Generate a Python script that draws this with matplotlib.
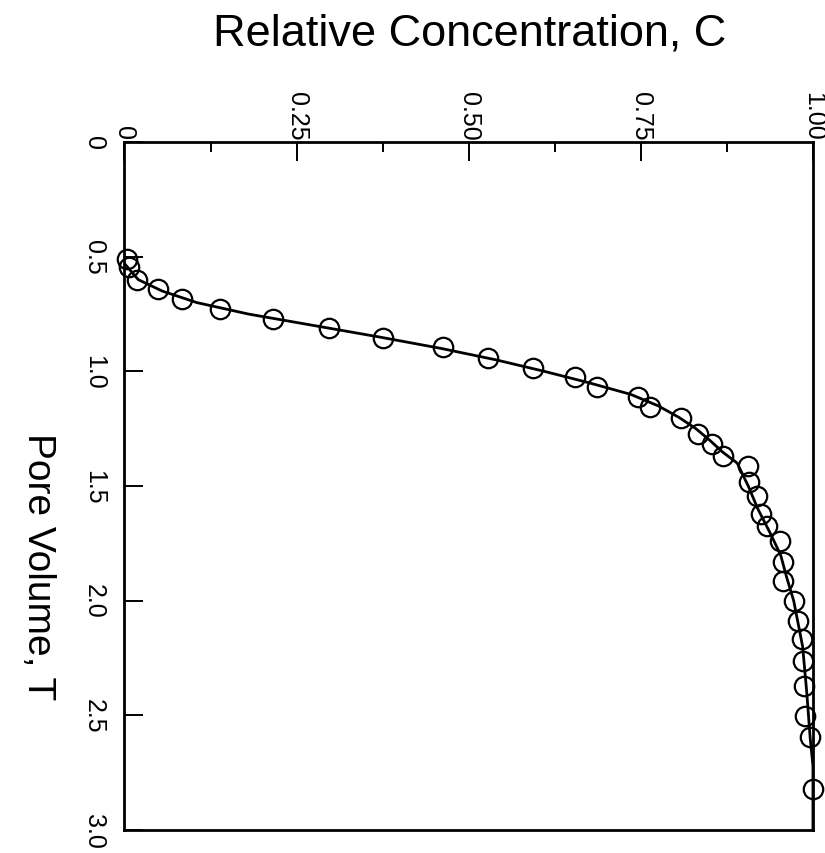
import matplotlib
matplotlib.use("Agg")
import matplotlib.pyplot as plt
from matplotlib.ticker import MultipleLocator, FixedLocator

plt.rcParams['font.family'] = ['Liberation Sans', 'DejaVu Sans']

# Observed data (pore volume T, relative concentration C)
obs_T = [0.510, 0.547, 0.601, 0.641, 0.685, 0.729, 0.772, 0.812, 0.855, 0.895,
         0.942, 0.985, 1.026, 1.067, 1.111, 1.154, 1.205, 1.274, 1.317, 1.368,
         1.412, 1.484, 1.543, 1.622, 1.673, 1.739, 1.833, 1.913, 2.000, 2.088,
         2.168, 2.262, 2.374, 2.502, 2.596, 2.822]
obs_C = [0.003, 0.007, 0.018, 0.048, 0.083, 0.139, 0.216, 0.297, 0.376, 0.463,
         0.528, 0.594, 0.654, 0.686, 0.746, 0.763, 0.809, 0.833, 0.853, 0.870,
         0.905, 0.907, 0.919, 0.925, 0.933, 0.952, 0.957, 0.957, 0.972, 0.979,
         0.984, 0.986, 0.987, 0.988, 0.996, 1.000]

# Fitted curve
fit_T = [0.53, 0.60, 0.65, 0.70, 0.75, 0.80, 0.85, 0.90, 0.95, 1.00, 1.05, 1.10,
         1.15, 1.20, 1.25, 1.30, 1.35, 1.40, 1.50, 1.60, 1.70, 1.80, 1.90, 2.00,
         2.20, 2.40, 2.60, 2.72, 3.00]
fit_C = [0.0, 0.020, 0.055, 0.105, 0.180, 0.275, 0.370, 0.460, 0.540, 0.610,
         0.675, 0.735, 0.775, 0.805, 0.830, 0.850, 0.868, 0.890, 0.906, 0.920,
         0.937, 0.953, 0.962, 0.972, 0.985, 0.991, 0.996, 1.0, 1.0]

c_ticks = [0, 0.25, 0.50, 0.75, 1.00]
c_labels = ['0', '0.25', '0.50', '0.75', '1.00']
t_ticks = [0, 0.5, 1.0, 1.5, 2.0, 2.5, 3.0]
t_labels = ['0', '0.5', '1.0', '1.5', '2.0', '2.5', '3.0']

fig = plt.figure(figsize=(8.25, 8.54), dpi=100)
ax = fig.add_axes([0.1509, 0.0269, 0.8345, 0.8056])

ax.plot(fit_C, fit_T, color='black', lw=2.0, zorder=2)
ax.plot(obs_C, obs_T, linestyle='none', marker='o', markersize=14,
        markerfacecolor='none', markeredgecolor='black', markeredgewidth=1.6,
        zorder=3, clip_on=False)

ax.set_xlim(0, 1.0)
ax.set_ylim(3.0, 0)

for s in ax.spines.values():
    s.set_linewidth(2.0)

ax.xaxis.tick_top()
ax.xaxis.set_major_locator(FixedLocator(c_ticks))
ax.xaxis.set_minor_locator(MultipleLocator(0.125))
ax.set_xticklabels(c_labels, rotation=270, fontsize=18)
ax.tick_params(axis='x', which='major', direction='in', length=14, width=1.4,
               pad=2, top=True, bottom=False)
ax.tick_params(axis='x', which='minor', direction='in', length=7, width=1.4,
               top=True, bottom=False)
for lab in ax.get_xticklabels():
    lab.set_va('bottom')

ax.yaxis.set_major_locator(FixedLocator(t_ticks))
ax.set_yticklabels(t_labels, rotation=270, fontsize=18)
ax.tick_params(axis='y', which='major', direction='in', length=14, width=1.4,
               pad=22, left=True, right=False)
for lab in ax.get_yticklabels():
    lab.set_ha('center')
    lab.set_va('center')

fig.text(0.5697, 1 - 34 / 854, 'Relative Concentration, C', ha='center',
         va='center', fontsize=32.5)
fig.text(38 / 825, 1 - 567 / 854, 'Pore Volume, T', ha='center', va='center',
         rotation=270, fontsize=28)

fig.savefig('out.png', dpi=100)
